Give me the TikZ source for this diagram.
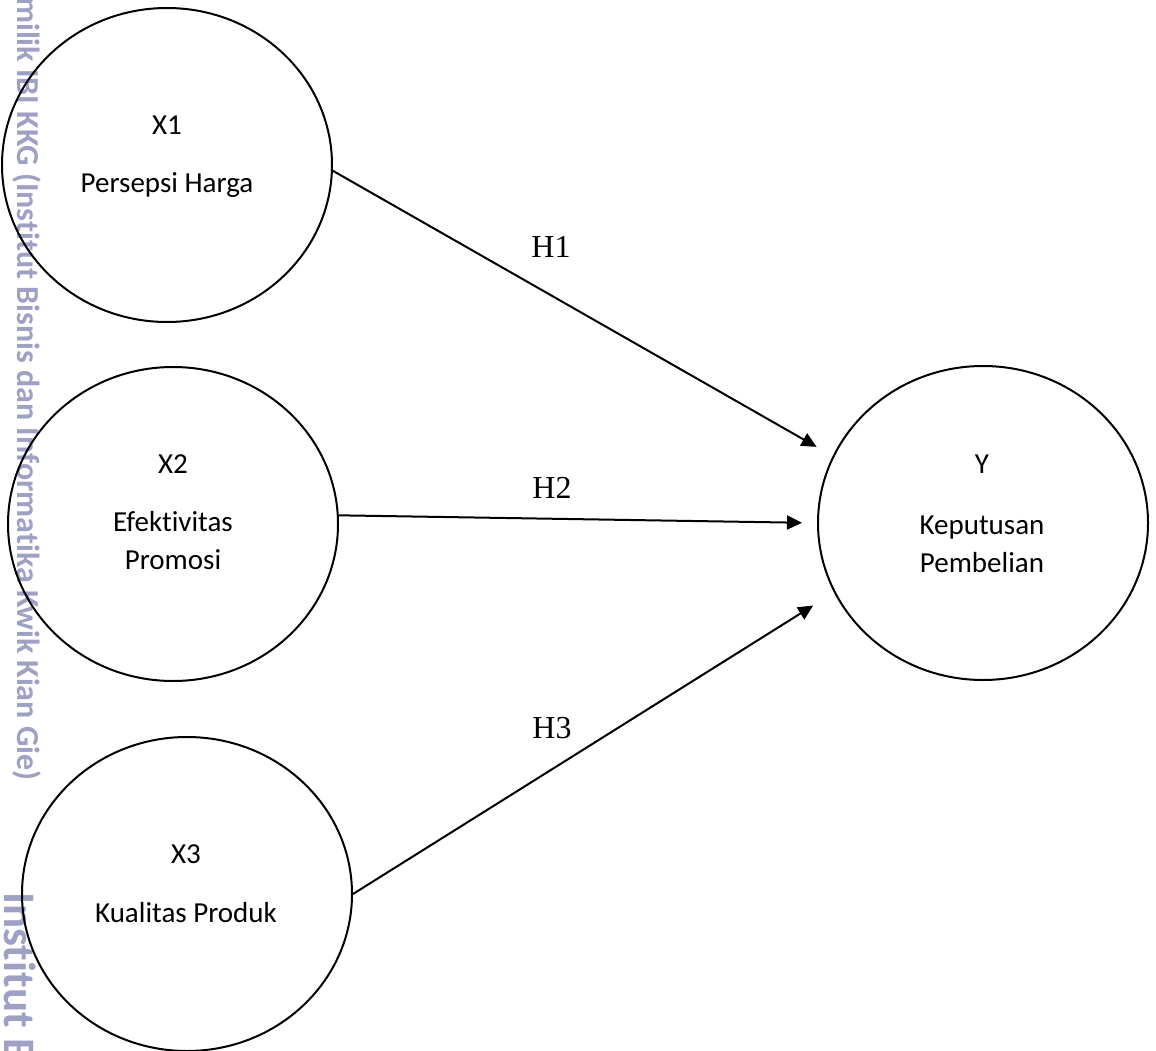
\documentclass[tikz,border=0pt]{standalone}
\usepackage{fontspec}
\setmainfont{Carlito}[Ligatures=NoCommon]
\newfontfamily\tnr{Liberation Serif}
\usetikzlibrary{shapes.geometric,arrows.meta}
\definecolor{wm}{RGB}{158,160,196}
\begin{document}
\begin{tikzpicture}[x=1pt,y=-1pt,
 var/.style={draw,ellipse,line width=2pt,minimum width=330pt,minimum height=314pt,inner sep=0pt},
 txt/.style={font=\fontsize{29}{38}\selectfont,align=center,inner sep=0pt,anchor=base},
 hyp/.style={font=\tnr\fontsize{32}{38}\selectfont,inner sep=0pt,anchor=base},
 arr/.style={line width=2pt,-{Triangle[length=15pt,width=14pt]}},
 wmk/.style={text=wm,font=\bfseries\fontsize{32}{36}\selectfont,rotate=-90,anchor=base west,inner sep=0pt}]
\useasboundingbox (0,0) rectangle (1156,1051);
\fill[white] (0,0) rectangle (1156,1051);
% watermark
\node[wmk] (wm1) at (17,-3) {milik IBI KKG (Institut Bisnis dan Informatika Kwik Kian Gie)};
\node[wmk,font=\bfseries\fontsize{45}{50}\selectfont] (wm2) at (5,892) {Institut Bisnis dan Informatika Kwik Kian Gie};
% variables
\node[var] (x1) at (167,165) {};
\node[var] (x2) at (173,524) {};
\node[var] (x3) at (187,894) {};
\node[var] (y) at (983,523) {};
% texts
\node[txt] (x1a) at (167,135) {X1};
\node[txt] (x1b) at (167,193) {Persepsi Harga};
\node[txt] (x2a) at (173,473) {X2};
\node[txt] (x2b) at (173,569) {Efektivitas\\Promosi};
\node[txt] (x3a) at (186,863) {X3};
\node[txt] (x3b) at (186,922) {Kualitas Produk};
\node[txt] (ya) at (982,473) {Y};
\node[txt] (yb) at (982,572) {Keputusan\\Pembelian};
% hypotheses
\node[hyp] (h1) at (551,257) {H1};
\node[hyp] (h2) at (552,498) {H2};
\node[hyp] (h3) at (552,738) {H3};
% arrows
\draw[arr,shorten >=18.5pt] (x1.-2) -- (y.156.3);
\draw[arr,shorten >=15pt] (x2.3.5) -- (y.180);
\draw[arr,shorten >=24.5pt] (x3.0) -- (y.205.75);
\end{tikzpicture}
\end{document}
